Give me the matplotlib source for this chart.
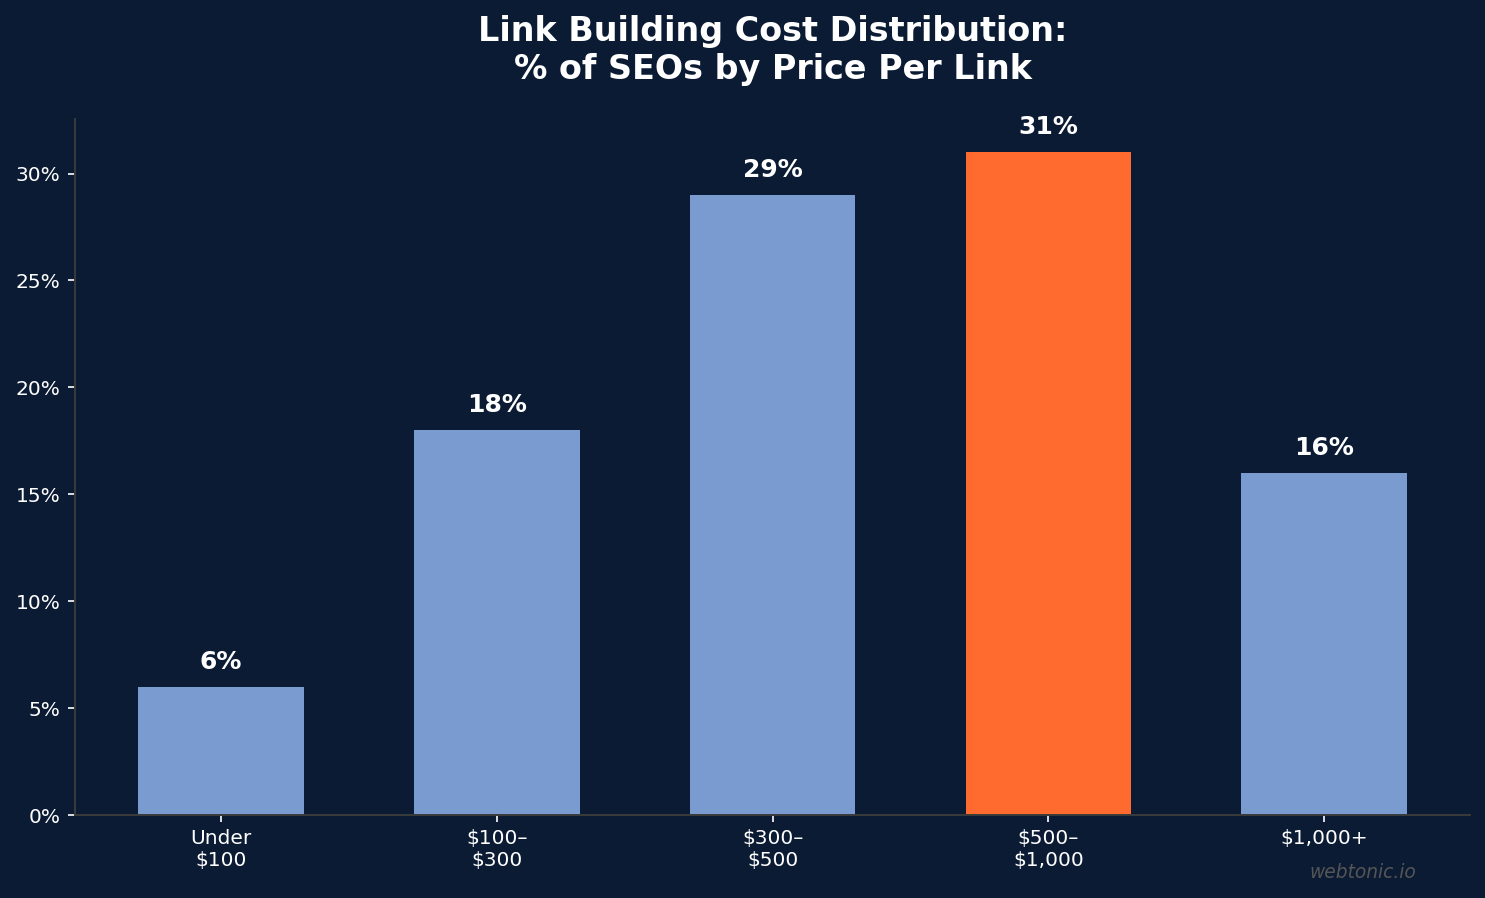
import matplotlib
matplotlib.use("Agg")
import matplotlib.pyplot as plt
from matplotlib.ticker import FuncFormatter

plt.rcParams["font.family"] = ["DejaVu Sans"]

# data
categories = ["Under\n$100", "$100–\n$300", "$300–\n$500", "$500–\n$1,000", "$1,000+"]
shares = [6, 18, 29, 31, 16]
highlight = 3

bg = "#0b1b34"
bar_blue = "#7a9bd0"
bar_orange = "#ff6b2e"

fig, ax = plt.subplots(figsize=(14.85, 8.98), dpi=100)
fig.patch.set_facecolor(bg)
ax.set_facecolor(bg)

colors = [bar_orange if i == highlight else bar_blue for i in range(len(shares))]
x = range(len(categories))
ax.bar(x, shares, width=0.6, color=colors)

for i, v in enumerate(shares):
    ax.text(i, v + 0.6, f"{v}%", ha="center", va="bottom",
            color="white", fontsize=18, fontweight="bold")

ax.set_xticks(list(x))
ax.set_xticklabels(categories, fontsize=14.5, color="white")
ax.yaxis.set_major_formatter(FuncFormatter(lambda v, p: f"{v:.0f}%"))
ax.tick_params(axis="both", labelsize=14.5, colors="white",
               length=5.2, width=1.2, pad=5.2)
ax.set_ylim(0, max(shares) * 1.05)

for s in ["top", "right"]:
    ax.spines[s].set_visible(False)
for s in ["left", "bottom"]:
    ax.spines[s].set_color("#3a3a3a")
    ax.spines[s].set_linewidth(1.4)

ax.set_title("Link Building Cost Distribution:\n% of SEOs by Price Per Link",
             color="white", fontsize=24, fontweight="bold", pad=28.5)

fig.text(0.918, 0.028, "webtonic.io", ha="center", va="center",
         fontsize=13.4, style="italic", color="#555555")

plt.subplots_adjust(left=0.0505, right=0.99, top=0.8675, bottom=0.0924)
plt.savefig("out.png", facecolor=bg)
